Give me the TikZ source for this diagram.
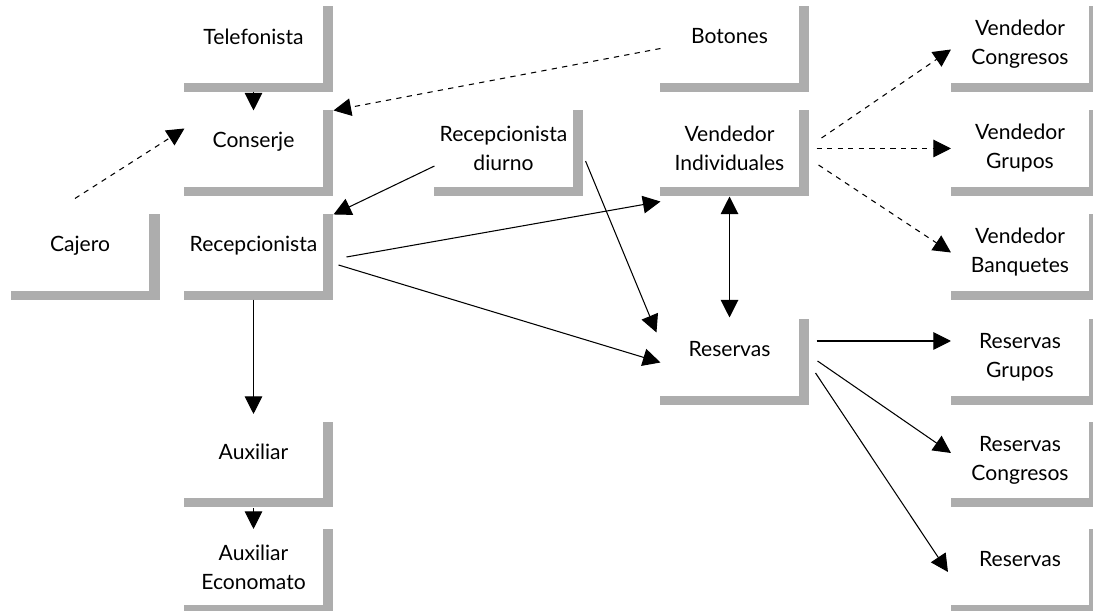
\documentclass[tikz,border=0pt]{standalone}
\usepackage{fontspec}
\setmainfont{Lato}
\usetikzlibrary{arrows.meta}
\tikzset{>={Triangle[length=10pt, width=10pt]}}
\tikzset{
  puesto/.style = {minimum width = 2.74cm, minimum height = 1.5cm, inner sep = 0pt, align = center},
  simple/.style = {text depth = 0.33cm},
  sombra/.style = {fill = black!32},
  discontinua/.style = {dash pattern = on 3pt off 3pt}
}

\begin{document}
\begin{tikzpicture}[font = \fontsize{12}{16.5}\selectfont, line width = 0.6pt]
\useasboundingbox (0,0) rectangle (21.86,-12.22);

% puestos
\node[puesto, simple] (telefonista) at (5.07, -0.89) {Telefonista};
\node[puesto, simple] (conserje) at (5.07, -2.97) {Conserje};
\node[puesto, simple] (cajero) at (1.60, -5.05) {Cajero};
\node[puesto, simple] (recep) at (5.07, -5.05) {Recepcionista};
\node[puesto] (recepdiurno) at (10.07, -2.97) {Recepcionista\\diurno};
\node[puesto, simple] (botones) at (14.59, -0.89) {Botones};
\node[puesto] (vindiv) at (14.59, -2.97) {Vendedor\\Individuales};
\node[puesto, simple] (reservas) at (14.59, -7.15) {Reservas};
\node[puesto, simple] (auxiliar) at (5.07, -9.20) {Auxiliar};
\node[puesto] (economato) at (5.07, -11.34) {Auxiliar\\Economato};

\node[puesto] (vcongresos) at (20.40, -0.89) {Vendedor\\Congresos};
\node[puesto] (vgrupos) at (20.40, -2.97) {Vendedor\\Grupos};
\node[puesto] (vbanquetes) at (20.40, -5.05) {Vendedor\\Banquetes};
\node[puesto] (rgrupos) at (20.40, -7.15) {Reservas\\Grupos};
\node[puesto] (rcongresos) at (20.40, -9.20) {Reservas\\Congresos};
\node[puesto, simple] (rsimple) at (20.40, -11.34) {Reservas};

% sombras
\foreach \n in {telefonista, conserje, cajero, recep, recepdiurno, botones, vindiv, reservas, auxiliar, economato, vcongresos, vgrupos, vbanquetes, rgrupos, rcongresos, rsimple} {
  \fill[sombra] (\n.north east) rectangle ([xshift = 0.21cm, yshift = -0.18cm]\n.south east);
  \fill[sombra] (\n.south west) rectangle ([yshift = -0.18cm]\n.south east);
}

% conexiones
\draw[->] ([yshift = -0.18cm]telefonista.south) -- (conserje.north);
\draw[->, discontinua] ([yshift = -0.08cm]botones.west) -- ([xshift = 0.22cm]conserje.north east);
\draw[->, discontinua] ([xshift = -0.1cm, yshift = 0.32cm]cajero.north) -- ([yshift = 0.4cm]conserje.west);
\draw[->] ([yshift = -0.35cm]recepdiurno.west) -- ([xshift = 0.22cm]recep.north east);
\draw[->] ([xshift = 0.48cm, yshift = -0.09cm]recep.east) -- ([yshift = -0.3cm]vindiv.south west);
\draw[->] ([xshift = 0.32cm, yshift = -0.25cm]recep.east) -- ([yshift = -0.1cm]reservas.west);
\draw[->] ([xshift = 0.26cm, yshift = -0.25cm]recepdiurno.east) -- ([xshift = -0.08cm, yshift = -0.26cm]reservas.north west);
\draw[<->] ([yshift = -0.2cm]vindiv.south) -- ([yshift = 0.04cm]reservas.north);
\draw[->] ([yshift = -0.18cm]recep.south) -- ([yshift = 0.16cm]auxiliar.north);
\draw[->] ([yshift = -0.2cm]auxiliar.south) -- (economato.north);

\draw[->, discontinua] ([xshift = 0.46cm, yshift = 0.21cm]vindiv.east) -- ([yshift = -0.1cm]vcongresos.west);
\draw[->, discontinua] ([xshift = 0.36cm]vindiv.east) -- (vgrupos.west);
\draw[->, discontinua] ([xshift = 0.4cm, yshift = -0.33cm]vindiv.east) -- (vbanquetes.west);

\draw[->] ([xshift = 0.36cm, yshift = 0.33cm]reservas.east) -- ([yshift = 0.33cm]rgrupos.west);
\draw[->] ([xshift = 0.38cm, yshift = -0.07cm]reservas.east) -- ([yshift = 0.14cm]rcongresos.west);
\draw[->] ([xshift = 0.34cm, yshift = -0.31cm]reservas.east) -- ([xshift = -0.06cm, yshift = -0.1cm]rsimple.west);

\end{tikzpicture}
\end{document}
